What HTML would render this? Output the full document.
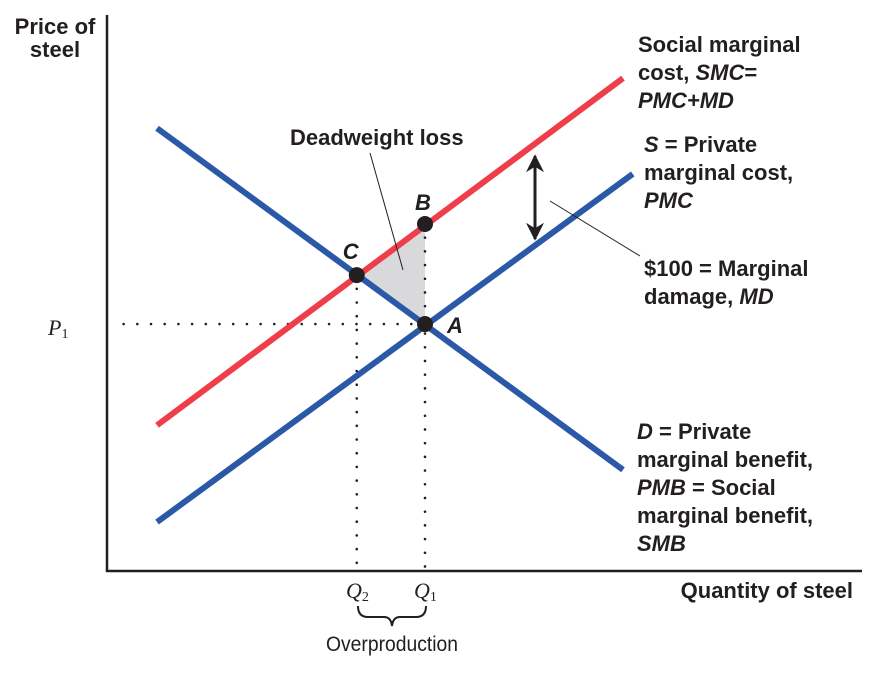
<!DOCTYPE html>
<html><head><meta charset="utf-8"><style>
body{margin:0;background:#fff;}
svg text{font-family:"Liberation Sans Narrow","Liberation Sans",sans-serif;}
.lb{font-weight:bold;font-size:22px;fill:#231f20;}
.sf{font-family:"Liberation Serif",serif !important;}
</style></head><body>
<svg id="chart" width="870" height="676" viewBox="0 0 870 676" xmlns="http://www.w3.org/2000/svg">
<defs><marker id="ah" viewBox="0 0 10 10" refX="9" refY="5" markerWidth="6" markerHeight="6" orient="auto-start-reverse"><path d="M0,0 L10,5 L0,10 L3,5 z" fill="#231f20"/></marker></defs>
<g id="marks"></g>
<line x1="107" y1="15" x2="107" y2="572" stroke="#231f20" stroke-width="2.5"/>
<line x1="106" y1="571" x2="862" y2="571" stroke="#231f20" stroke-width="2.5"/>
<text class="lb" text-anchor="middle" x="55" y="34">Price of</text>
<text class="lb" text-anchor="middle" x="55" y="57">steel</text>
<text class="lb" text-anchor="end" x="853" y="598">Quantity of steel</text>
<text class="sf" x="48" y="335" font-size="22" font-style="italic" fill="#231f20">P<tspan font-size="14" dy="3" font-style="normal">1</tspan></text>
<text class="sf" x="346" y="598" font-size="22" font-style="italic" fill="#231f20">Q<tspan font-size="14" dy="3" font-style="normal">2</tspan></text>
<text class="sf" x="414" y="598" font-size="22" font-style="italic" fill="#231f20">Q<tspan font-size="14" dy="3" font-style="normal">1</tspan></text>
<path d="M358,606 Q358,617 368,617 L384,617 Q391,617 392,626 Q393,617 400,617 L416,617 Q426,617 426,606" fill="none" stroke="#231f20" stroke-width="2"/>
<text x="392" y="651" text-anchor="middle" font-size="21" fill="#231f20" textLength="132" lengthAdjust="spacingAndGlyphs">Overproduction</text>
<text class="lb" x="290" y="145">Deadweight loss</text>
<line x1="370" y1="153" x2="403" y2="270" stroke="#231f20" stroke-width="1"/>
<g class="lb">
<text x="638" y="52">Social marginal</text>
<text x="638" y="80">cost, <tspan font-style="italic">SMC</tspan>=</text>
<text x="638" y="108" font-style="italic">PMC+MD</text></g>
<g class="lb">
<text x="644" y="152"><tspan font-style="italic">S</tspan> = Private</text>
<text x="644" y="180">marginal cost,</text>
<text x="644" y="208" font-style="italic">PMC</text></g>
<g class="lb">
<text x="644" y="276">$100 = Marginal</text>
<text x="644" y="304">damage, <tspan font-style="italic">MD</tspan></text></g>
<g class="lb">
<text x="637" y="439"><tspan font-style="italic">D</tspan> = Private</text>
<text x="637" y="467">marginal benefit,</text>
<text x="637" y="495" font-style="italic">PMB<tspan font-style="normal"> = Social</tspan></text>
<text x="637" y="523">marginal benefit,</text>
<text x="637" y="551" font-style="italic">SMB</text></g>
<line x1="535" y1="156" x2="535" y2="239" stroke="#231f20" stroke-width="3" marker-start="url(#ah)" marker-end="url(#ah)"/>
<line x1="550" y1="201" x2="640" y2="256" stroke="#231f20" stroke-width="1"/>
</svg>
<script>
const demandQ=[6.67,68.8], demandP=[80.5,18.4];
const supplyQ=[6.67,70.1], supplyP=[8.9,72.2];
const smcQ=[6.67,68.8], smcP=[26.5,89.6];
const pointNames=['A','B','C'];
const pointQ=[42.4,42.4,33.3], pointP=[44.9,63.1,53.8];
const xS=q=>107+q*7.5, yS=p=>571-p*5.5;
const NS='http://www.w3.org/2000/svg', g=document.getElementById('marks');
function mk(t,a){const e=document.createElementNS(NS,t);for(const k in a)e.setAttribute(k,a[k]);g.appendChild(e);return e;}
let tri=mk('polygon',{points:[2,1,0].map(i=>xS(pointQ[i])+','+yS(pointP[i])).join(' '),fill:'#d9d9db'});


const dot={stroke:'#231f20','stroke-width':2.6,'stroke-dasharray':'0 13.7','stroke-linecap':'round'};
let p1=mk('line',Object.assign({x1:xS(pointQ[0]),y1:yS(pointP[0]),x2:110,y2:yS(pointP[0])},dot));


let q1=mk('line',Object.assign({x1:xS(pointQ[1]),y1:yS(pointP[1]),x2:xS(pointQ[1]),y2:568},dot));


let q2=mk('line',Object.assign({x1:xS(pointQ[2]),y1:yS(pointP[2]),x2:xS(pointQ[2]),y2:568},dot));


let smc=mk('line',{x1:xS(smcQ[0]),y1:yS(smcP[0]),x2:xS(smcQ[1]),y2:yS(smcP[1]),stroke:'#ef3e4a','stroke-width':6});


let s=mk('line',{x1:xS(supplyQ[0]),y1:yS(supplyP[0]),x2:xS(supplyQ[1]),y2:yS(supplyP[1]),stroke:'#2b59a8','stroke-width':6});


let d=mk('line',{x1:xS(demandQ[0]),y1:yS(demandP[0]),x2:xS(demandQ[1]),y2:yS(demandP[1]),stroke:'#2b59a8','stroke-width':6});


const off=[[22,9],[-10,-14],[-14,-16]];
pointNames.forEach((n,i)=>{
  let c=mk('circle',{cx:xS(pointQ[i]),cy:yS(pointP[i]),r:8,fill:'#231f20'});
  
  
  let t=mk('text',{x:xS(pointQ[i])+off[i][0],y:yS(pointP[i])+off[i][1],'font-size':22,'font-weight':'bold','font-style':'italic',fill:'#231f20'});
  t.textContent=n;
  
  
});
</script>
</body></html>
